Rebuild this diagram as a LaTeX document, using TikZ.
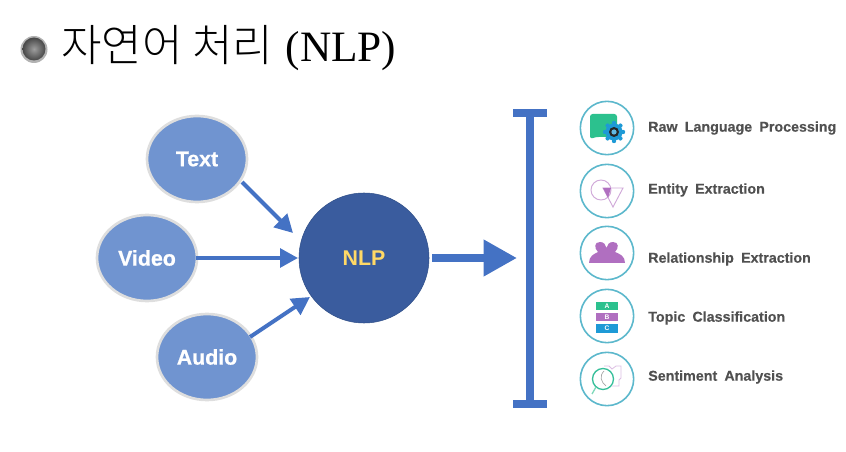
\documentclass[tikz,border=0pt]{standalone}
\usepackage{fontspec}
\setmainfont{Liberation Sans}
\newfontfamily\krfont[UprightFont={* Light}]{Noto Sans CJK KR}
\newfontfamily\titlefont{Liberation Serif}
\usetikzlibrary{arrows.meta,shapes.geometric}
\definecolor{bluefill}{HTML}{7094D0}
\definecolor{ringgrey}{HTML}{DEDEDE}
\definecolor{nlpfill}{HTML}{3A5C9E}
\definecolor{arrowblue}{HTML}{4472C4}
\definecolor{teal1}{HTML}{5CB8CC}
\definecolor{purp}{HTML}{B06FC0}
\definecolor{greenA}{HTML}{2CC18E}
\definecolor{blueC}{HTML}{1E9AD6}
\definecolor{labelgrey}{HTML}{505050}
\definecolor{nlptext}{HTML}{FFD966}
\tikzset{
  x=0.75pt,y=-0.75pt,
  source/.style={ellipse,draw=ringgrey,line width=2pt,fill=bluefill,minimum width=75pt,minimum height=64.5pt,inner sep=0pt,text=white,font=\fontsize{16}{17}\bfseries\addfontfeature{FakeBold=0.8}},
  feed/.style={draw=arrowblue,line width=3pt,-{Triangle[length=13.5pt,width=14pt]}},
  iconring/.style={circle,draw=teal1,line width=1.2pt,minimum size=40pt,inner sep=0pt,fill=white},
  lab/.style={anchor=west,inner sep=0pt,text=labelgrey,font=\fontsize{10.7}{12}\bfseries\addfontfeature{FakeBold=0.3}},
  bar/.style={draw=arrowblue,line width=6pt},
  letter/.style={font=\fontsize{5}{5}\bfseries,text=white,inner sep=0pt},
}
\newcommand{\gap}{\hspace{5.4pt}}
\begin{document}
\begin{tikzpicture}
\useasboundingbox (0,0) rectangle (846,452);
% title
\fill[black!30] (34,49.5) circle[radius=13.5];
\shade[inner color=black!38,outer color=black!72] (34,49) circle[radius=11.5];
\node[anchor=west,inner sep=0pt,font=\fontsize{33}{36}\selectfont] (title) at (61,48) {{\krfont 자연어 처리} {\titlefont\fontsize{32.5}{36}\selectfont (NLP)}};
% nodes
\node[source] (text) at (197,159) {Text};
\node[source] (video) at (147,258) {Video};
\node[source] (audio) at (207,357) {Audio};
\node[circle,fill=nlpfill,draw=arrowblue!70!black,line width=0.4pt,minimum size=97.5pt,inner sep=0pt,text=nlptext,font=\fontsize{16}{17}\bfseries] (nlp) at (364,258) {NLP};
\coordinate (t1) at (242,182); \coordinate (t2) at (293,233);
\coordinate (v1) at (196,258); \coordinate (v2) at (298,258);
\coordinate (a1) at (250,337); \coordinate (a2) at (310,297);
\draw[feed] (t1) -- (t2);
\draw[feed] (v1) -- (v2);
\draw[feed] (a1) -- (a2);
% big arrow and bracket
\coordinate (b1) at (432,258); \coordinate (b2) at (517,258);
\draw[draw=arrowblue,line width=6pt,-{Triangle[length=25pt,width=26pt]}] (b1) -- (b2);
\coordinate (br1) at (530,113); \coordinate (br2) at (530,404);
\draw[bar] (br1) -- (br2);
\draw[bar] (513,113) -- (547,113);
\draw[bar] (513,404) -- (547,404);
% icons
\node[iconring] (i1) at (607,128) {};
\node[iconring] (i2) at (607,191) {};
\node[iconring] (i3) at (607,253) {};
\node[iconring] (i4) at (607,316) {};
\node[iconring] (i5) at (607,379) {};
% icon 1: speech bubble + gear
\fill[greenA,rounded corners=2pt] (590,114) -- (617,114) -- (617,137) -- (596,137) -- (590,139) -- cycle;
\foreach \a in {0,45,...,315}{\fill[blueC] (614,132) ++(\a:9) circle[radius=2.2];}
\fill[blueC] (614,132) circle[radius=8.5];
\fill[black!85] (614,132) circle[radius=5];
\fill[blueC!70!white] (614,132) circle[radius=2.6];
% icon 2: circle + triangle
\draw[purp!60,line width=0.7pt] (601,190) circle[radius=10];
\draw[purp!60,line width=0.7pt] (603,188) -- (623,188) -- (613,207) -- cycle;
\fill[purp] (603,188) -- (611,188) -- (608,198) -- cycle;
% icon 3: people
\fill[purp] (589,263) .. controls (589,256) and (594,254) .. (598,252) .. controls (594,248) and (594,242) .. (600,242) .. controls (604,242) and (606,245) .. (606.5,248) .. controls (607,245) and (609,242) .. (613,242) .. controls (619,242) and (619,248) .. (615,252) .. controls (620,254) and (625,256) .. (625,263) -- cycle;
% icon 4: stacked bars
\fill[greenA] (596,302) rectangle (618,310);
\fill[purp] (596,313) rectangle (618,321);
\fill[blueC] (596,324) rectangle (618,333);
\node[letter] (la) at (607,306) {A};
\node[letter] (lb) at (607,317) {B};
\node[letter] (lc) at (607,328.5) {C};
% icon 5: magnifier on document
\draw[purp!45,line width=0.6pt] (604,366) -- (609,366) -- (612,369) -- (616,366) -- (621,366) -- (621,378) -- (619,380) -- (619,386) -- (612,386);
\draw[greenA!80!teal1,line width=1pt] (603,379) circle[radius=10.5];
\draw[greenA!60,line width=1pt] (596,387) -- (592,394);
\draw[black!35,line width=0.5pt] (604,371) .. controls (599,376) and (601,382) .. (606,386);
% labels
\node[lab] (l1) at (648,128) {Raw\gap Language\gap Processing};
\node[lab] (l2) at (648,190) {Entity\gap Extraction};
\node[lab] (l3) at (648,259) {Relationship\gap Extraction};
\node[lab] (l4) at (648,318) {Topic\gap Classification};
\node[lab] (l5) at (648,377) {Sentiment\gap Analysis};
\end{tikzpicture}
\end{document}
